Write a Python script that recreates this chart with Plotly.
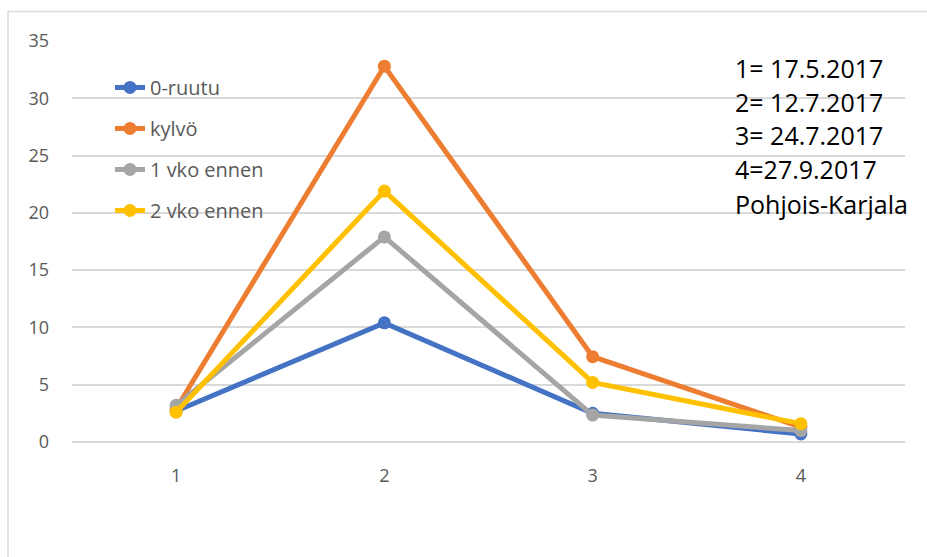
import plotly.graph_objects as go

# Sampling rounds (category axis) and measured values per treatment
rounds = ["1", "2", "3", "4"]
series_names = ["0-ruutu", "kylvö", "1 vko ennen", "2 vko ennen"]
ruutu0 = [2.7, 10.4, 2.5, 0.7]
kylvo = [2.9, 32.8, 7.45, 1.3]
vko1_ennen = [3.2, 17.9, 2.35, 1.0]
vko2_ennen = [2.6, 21.9, 5.2, 1.6]
series_values = [ruutu0, kylvo, vko1_ennen, vko2_ennen]
series_colors = ["#4472C4", "#ED7D31", "#A5A5A5", "#FFC000"]

# Date key shown at the upper right
date_notes = ["1= 17.5.2017", "2= 12.7.2017", "3= 24.7.2017", "4=27.9.2017", "Pohjois-Karjala"]

W, H = 927, 557
L, R, T, B = 72, 22, 41, 114.5
plot_w = W - L - R
plot_h = H - T - B


def px_x(px):
    return (px - L) / plot_w


def px_y(py):
    return (H - B - py) / plot_h


font_family = "Open Sans, Liberation Sans, sans-serif"

fig = go.Figure()
for name, vals, color in zip(series_names, series_values, series_colors):
    fig.add_trace(go.Scatter(
        x=rounds, y=vals, name=name, mode="lines+markers",
        line=dict(color=color, width=5),
        marker=dict(color=color, size=13),
        legendgroup=name,
    ))

note_y = [68.5, 102, 135.5, 169, 204]
annotations = [
    dict(text=t, x=px_x(733), y=px_y(yc), xref="paper", yref="paper",
         xanchor="left", yanchor="middle", showarrow=False,
         font=dict(size=25, color="#000000", family=font_family))
    for t, yc in zip(date_notes, note_y)
]

fig.update_layout(
    width=W, height=H,
    margin=dict(l=L, r=R, t=T, b=B),
    paper_bgcolor="white", plot_bgcolor="white",
    font=dict(family=font_family, color="#595959"),
    showlegend=True,
    legend=dict(
        x=px_x(110), y=px_y(68), xanchor="left", yanchor="top",
        bgcolor="rgba(0,0,0,0)", font=dict(size=20, color="#595959"),
        tracegroupgap=12, traceorder="grouped",
    ),
    xaxis=dict(
        type="category", range=[-0.5, 3.5], showgrid=False, zeroline=False,
        showline=False, ticks="", tickfont=dict(size=18, color="#595959"),
        ticklabelstandoff=21, fixedrange=True,
    ),
    yaxis=dict(
        range=[0, 35], dtick=5, showgrid=True, gridcolor="#D9D9D9", gridwidth=1.5,
        zeroline=True, zerolinecolor="#D9D9D9", zerolinewidth=1.5,
        showline=False, ticks="", tickfont=dict(size=18, color="#595959"),
        ticklabelstandoff=22, fixedrange=True,
    ),
    annotations=annotations,
    shapes=[dict(
        type="rect", xref="paper", yref="paper",
        x0=px_x(8), x1=px_x(935), y0=px_y(565), y1=px_y(11.5),
        line=dict(color="#D9D9D9", width=1.5), fillcolor="rgba(0,0,0,0)",
        layer="below",
    )],
)

fig.write_html("out.html")
